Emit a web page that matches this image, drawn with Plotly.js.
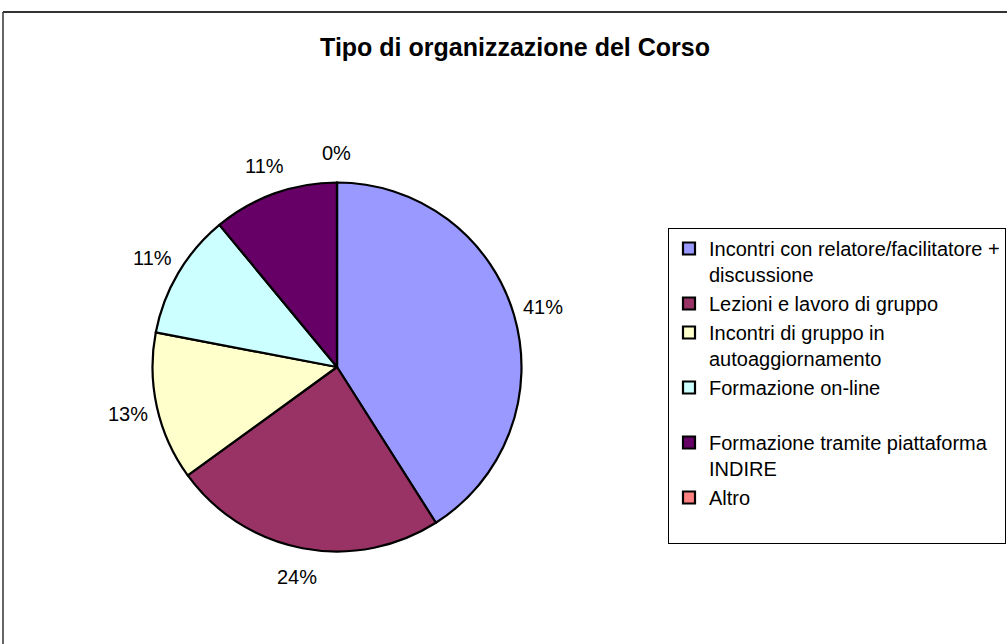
<!DOCTYPE html>
<html>
<head>
<meta charset="utf-8">
<script src="https://cdn.plot.ly/plotly-3.0.1.min.js"></script>
<style>
html,body{margin:0;padding:0;background:#fff;}
#chart{width:1007px;height:644px;}
</style>
</head>
<body>
<div id="chart"></div>
<script>
// ---- data ----
const categories = [
  "Incontri con relatore/facilitatore +<br>discussione",
  "Lezioni e lavoro di gruppo",
  "Incontri di gruppo in<br>autoaggiornamento",
  "Formazione on-line<br> ",
  "Formazione tramite piattaforma<br>INDIRE",
  "Altro<br> "
];
const values = [41, 24, 13, 11, 11, 0];
const colors = ["#9999FF", "#993366", "#FFFFCC", "#CCFFFF", "#660066", "#FF8080"];
const titleText = "Tipo di organizzazione del Corso";

// ---- layout geometry ----
const W = 1007, H = 644;
const cxPx = 337, cyPx = 367, rPx = 184.5;
const labelR = rPx * 1.16;

const total = values.reduce((a, b) => a + b, 0);
const annotations = [];
let cum = 0;
values.forEach((v) => {
  const mid = (cum + v / 2) / total * 2 * Math.PI;
  cum += v;
  const px = cxPx + labelR * Math.sin(mid);
  const py = cyPx - labelR * Math.cos(mid);
  annotations.push({
    xref: "paper", yref: "paper",
    x: px / W, y: 1 - py / H,
    xanchor: "center", yanchor: "middle",
    text: Math.round(v / total * 100) + "%",
    showarrow: false,
    font: {family: "Liberation Sans, Arial, sans-serif", size: 20, color: "#000"}
  });
});

const trace = {
  type: "pie",
  labels: categories,
  values: values,
  sort: false,
  direction: "clockwise",
  rotation: 0,
  textinfo: "none",
  hoverinfo: "label+percent",
  marker: {colors: colors, line: {color: "#000", width: 2.2}},
  domain: {
    x: [(cxPx - rPx) / W, (cxPx + rPx) / W],
    y: [1 - (cyPx + rPx) / H, 1 - (cyPx - rPx) / H]
  }
};

const layout = {
  width: W, height: H,
  margin: {l: 0, r: 0, t: 0, b: 0},
  paper_bgcolor: "#fff",
  font: {family: "Liberation Sans, Arial, sans-serif", color: "#000"},
  title: {
    text: "<b>" + titleText + "</b>",
    font: {family: "Liberation Sans, Arial, sans-serif", size: 25, color: "#000"},
    x: 515 / W, xanchor: "center",
    y: 1 - 47 / H, yanchor: "middle",
    xref: "paper", yref: "paper"
  },
  showlegend: true,
  legend: {
    x: 668 / W, xanchor: "left",
    y: 1 - 228 / H, yanchor: "top",
    bordercolor: "#000", borderwidth: 1,
    bgcolor: "#fff",
    font: {family: "Liberation Sans, Arial, sans-serif", size: 20, color: "#000"},
    valign: "top",
    itemwidth: 30,
    traceorder: "normal"
  },
  annotations: annotations,
  shapes: [
    {type: "line", xref: "paper", yref: "paper", x0: 3 / W, x1: 1.05, y0: 1 - 12 / H, y1: 1 - 12 / H, line: {color: "#333", width: 2}},
    {type: "line", xref: "paper", yref: "paper", x0: 3 / W, x1: 3 / W, y0: 1 - 12 / H, y1: -0.05, line: {color: "#333", width: 1.5}}
  ]
};

Plotly.newPlot("chart", [trace], layout, {displayModeBar: false, staticPlot: true});
</script>
</body>
</html>
